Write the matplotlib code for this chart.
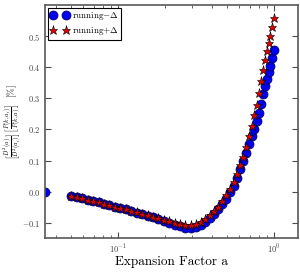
import matplotlib
matplotlib.use("Agg")
import matplotlib.pyplot as plt

plt.rcParams["font.family"] = "serif"
plt.rcParams["font.serif"] = ["cmr10", "DejaVu Serif"]
plt.rcParams["mathtext.fontset"] = "cm"
plt.rcParams["axes.formatter.use_mathtext"] = True

# expansion factor sample points
a_vals = [0.0501, 0.0543, 0.0589, 0.0638, 0.0692, 0.0750, 0.0813, 0.0881, 0.0955, 0.1035,
          0.1122, 0.1216, 0.1318, 0.1429, 0.1549, 0.1679, 0.1820, 0.1972, 0.2138, 0.2317,
          0.2512, 0.2710, 0.2924, 0.3148, 0.3388, 0.3631, 0.3890, 0.4150, 0.4416, 0.4688,
          0.4966, 0.5248, 0.5534, 0.5821, 0.6109, 0.6397, 0.6683, 0.6966, 0.7244, 0.7516,
          0.7780, 0.8035, 0.8279, 0.8531, 0.8770, 0.9016, 0.9268, 0.9506, 0.9750, 1.0000]

run_minus = [-0.013, -0.017, -0.021, -0.025, -0.030, -0.034, -0.039, -0.043, -0.048, -0.052,
             -0.057, -0.062, -0.067, -0.072, -0.077, -0.082, -0.088, -0.094, -0.100, -0.106,
             -0.111, -0.115, -0.117, -0.114, -0.106, -0.097, -0.085, -0.072, -0.057, -0.038,
             -0.022, -0.002, 0.020, 0.045, 0.072, 0.098, 0.126, 0.152, 0.180, 0.200,
             0.226, 0.253, 0.282, 0.313, 0.341, 0.362, 0.385, 0.405, 0.430, 0.455]

run_plus = [-0.013, -0.017, -0.021, -0.025, -0.030, -0.034, -0.039, -0.043, -0.048, -0.052,
            -0.057, -0.062, -0.066, -0.071, -0.076, -0.081, -0.085, -0.090, -0.095, -0.099,
            -0.103, -0.106, -0.107, -0.104, -0.097, -0.088, -0.076, -0.063, -0.048, -0.029,
            -0.012, 0.008, 0.031, 0.057, 0.085, 0.113, 0.145, 0.178, 0.212, 0.245,
            0.280, 0.318, 0.355, 0.390, 0.424, 0.452, 0.478, 0.500, 0.530, 0.558]

# initial point (a_i) where the ratio is zero
a_init = [0.034]
val_init = [0.0]

fig = plt.figure(figsize=(3.0, 2.75), dpi=100)
ax = fig.add_axes([0.15, 0.133, 0.843, 0.849])

ax.plot(a_init + a_vals, val_init + run_minus, "o", ms=6.5, color="#0000f0",
        mec="#000050", mew=0.5, label=r"running$-\Delta$")
ax.plot(a_vals, run_plus, "*", ms=6.5, color="#e00000",
        mec="k", mew=0.4, label=r"running$+\Delta$")

ax.set_xscale("log")
ax.set_xlim(0.034, 1.43)
ax.set_ylim(-0.15, 0.6)
ax.set_yticks([-0.1, 0.0, 0.1, 0.2, 0.3, 0.4, 0.5])
ax.set_xlabel("Expansion Factor a", fontsize=9.5, labelpad=0)
ax.set_ylabel(r"$\left[\frac{D^2(a)}{D^2(a_i)}\right]\left[\frac{P(k,a_i)}{P(k,a)}\right]$  [%]",
              fontsize=6.5, ha="center", va="center")
ax.yaxis.set_label_coords(-0.125, 0.5)
ax.tick_params(which="both", direction="in", top=True, right=True, labelsize=6, colors="0.3",
               labelcolor="0.25")
ax.tick_params(which="major", length=4)
ax.tick_params(which="minor", length=2)
for s in ax.spines.values():
    s.set_color("0.35")
    s.set_linewidth(1.2)

leg = ax.legend(loc="upper left", numpoints=2, fontsize=6.5, fancybox=False,
                framealpha=1, edgecolor="k", borderpad=0.3, handletextpad=0.4,
                labelspacing=0.3, borderaxespad=0.3)
leg.get_frame().set_linewidth(0.8)

fig.savefig("out.png", dpi=100)
